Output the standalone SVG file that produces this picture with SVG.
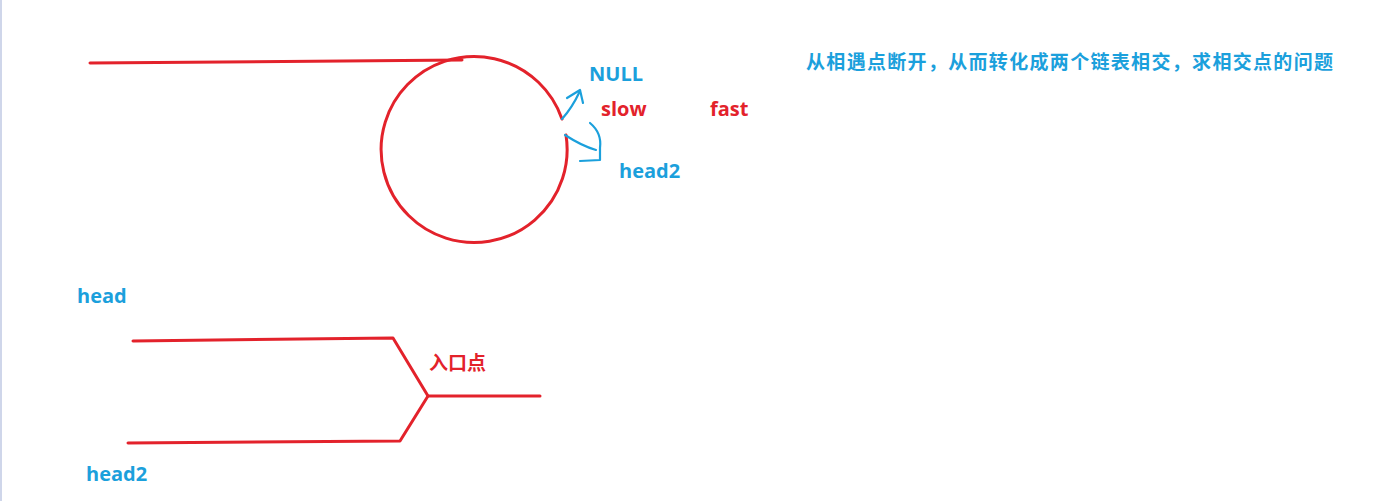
<svg xmlns="http://www.w3.org/2000/svg" width="1400" height="501" viewBox="0 0 1400 501">
<style>
.r{fill:none;stroke:#e3222b;stroke-width:3;stroke-linecap:round;stroke-linejoin:round}
.b{fill:none;stroke:#1ba0dc;stroke-width:2.2;stroke-linecap:round;stroke-linejoin:round}
.tb{fill:#1ba0dc;font-family:"Open Sans","Noto Sans CJK SC",sans-serif;font-weight:bold}
.tr{fill:#e3222b;font-family:"Open Sans","Noto Sans CJK SC",sans-serif;font-weight:bold}
</style>
<rect x="0" y="0" width="1400" height="501" fill="#ffffff"/>
<line x1="1" y1="0" x2="1" y2="501" stroke="#cfd6ea" stroke-width="2"/>
<g id="loop">
<line class="r" x1="90" y1="63" x2="462" y2="60"/>
<path class="r" d="M562,119 A93,93 0 1 0 566,135"/>
</g>
<g id="connectors">
<path class="b" d="M562,119 Q572,108 580,91"/>
<path class="b" d="M567,98 L580,90 L583,103"/>
<path class="b" d="M565,135 Q582,146 596,150"/>
<path class="b" d="M590,123 Q602,133 600,148 L600,160 L580,161"/>
</g>
<g id="y-lists">
<polyline class="r" points="133,341 393,338 428,396 540,396"/>
<polyline class="r" points="128,443 400,441 428,396"/>
</g>
<g id="labels">
<text class="tb" x="589" y="81" font-size="20">NULL</text>
<text class="tr" x="601" y="116" font-size="20">slow</text>
<text class="tr" x="710" y="116" font-size="20">fast</text>
<text class="tb" x="619" y="178" font-size="20">head2</text>
<text class="tb" x="806" y="69" font-size="19" textLength="527" lengthAdjust="spacing">从相遇点断开，从而转化成两个链表相交，求相交点的问题</text>
<text class="tb" x="77" y="303" font-size="20">head</text>
<text class="tr" x="429" y="370" font-size="19">入口点</text>
<text class="tb" x="86" y="481" font-size="20">head2</text>
</g>
</svg>
